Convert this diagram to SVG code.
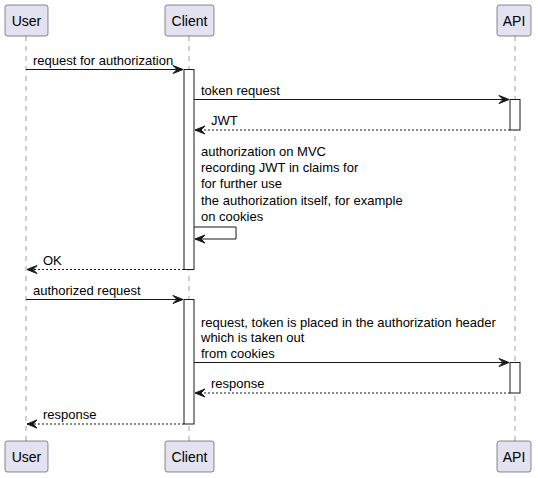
<svg xmlns="http://www.w3.org/2000/svg" width="538" height="478" viewBox="0 0 538 478">
<style>
.box{fill:#E2E2F0;stroke:#181818;stroke-width:0.5}
.life{stroke:#A0A0A0;stroke-width:1;stroke-dasharray:5,5}
.act{fill:#FFFFFF;stroke:#181818;stroke-width:1}
.msg{stroke:#181818;stroke-width:1;fill:none}
.ret{stroke:#181818;stroke-width:1;fill:none;stroke-dasharray:2,2}
.head{fill:#181818;stroke:#181818;stroke-width:1}
.pt{font-family:"Liberation Sans",Arial,sans-serif;font-size:14px;fill:#000000;text-anchor:middle}
.mt{font-family:"Liberation Sans",Arial,sans-serif;font-size:13px;fill:#000000}
</style>
<defs>
<polygon id="hr" points="-10,-4 0,0 -10,4 -6,0"/>
<polygon id="hl" points="10,-4 0,0 10,4 6,0"/>
</defs>
<rect width="538" height="478" fill="#FFFFFF"/>
<g id="lifelines">
<line class="life" x1="26" y1="36" x2="26" y2="441"/>
<line class="life" x1="189" y1="36" x2="189" y2="441"/>
<line class="life" x1="515" y1="36" x2="515" y2="441"/>
</g>
<g id="activations">
<rect class="act" x="184" y="69.5" width="10" height="200"/>
<rect class="act" x="184" y="299.5" width="10" height="124.5"/>
<rect class="act" x="510" y="99.5" width="10" height="30.5"/>
<rect class="act" x="510" y="362.5" width="10" height="30.5"/>
</g>
<g id="user-top"><rect class="box" x="5" y="5" width="43" height="31" rx="2.5"/><text class="pt" x="26.5" y="25.5">User</text></g>
<g id="client-top"><rect class="box" x="165" y="5" width="49" height="31" rx="2.5"/><text class="pt" x="189.5" y="25.5">Client</text></g>
<g id="api-top"><rect class="box" x="497" y="5" width="34" height="31" rx="2.5"/><text class="pt" x="514" y="25.5">API</text></g>
<g id="user-bottom"><rect class="box" x="5" y="441" width="43" height="31" rx="2.5"/><text class="pt" x="26.5" y="461.5">User</text></g>
<g id="client-bottom"><rect class="box" x="165" y="441" width="49" height="31" rx="2.5"/><text class="pt" x="189.5" y="461.5">Client</text></g>
<g id="api-bottom"><rect class="box" x="497" y="441" width="34" height="31" rx="2.5"/><text class="pt" x="514" y="461.5">API</text></g>
<g id="connectors">
<line class="msg" x1="26" y1="69.5" x2="183" y2="69.5"/>
<use href="#hr" class="head" x="183" y="69.5"/>
<text class="mt" x="33" y="65">request for authorization</text>

<line class="msg" x1="194" y1="99.5" x2="509" y2="99.5"/>
<use href="#hr" class="head" x="509" y="99.5"/>
<text class="mt" x="201" y="95">token request</text>

<line class="ret" x1="510" y1="130" x2="195" y2="130"/>
<use href="#hl" class="head" x="195" y="130"/>
<text class="mt" x="211" y="125">JWT</text>

<text class="mt" x="201" y="156">authorization on MVC</text>
<text class="mt" x="201" y="172.2">recording JWT in claims for</text>
<text class="mt" x="201" y="188.4">for further use</text>
<text class="mt" x="201" y="204.6">the authorization itself, for example</text>
<text class="mt" x="201" y="220.8">on cookies</text>
<polyline class="msg" points="194,227 236,227 236,239 195,239"/>
<use href="#hl" class="head" x="195" y="239"/>

<line class="ret" x1="184" y1="269.5" x2="27" y2="269.5"/>
<use href="#hl" class="head" x="27" y="269.5"/>
<text class="mt" x="43" y="265">OK</text>

<line class="msg" x1="26" y1="299.5" x2="183" y2="299.5"/>
<use href="#hr" class="head" x="183" y="299.5"/>
<text class="mt" x="33" y="295">authorized request</text>

<text class="mt" x="201" y="327">request, token is placed in the authorization header</text>
<text class="mt" x="201" y="342.3">which is taken out</text>
<text class="mt" x="201" y="357.6">from cookies</text>
<line class="msg" x1="194" y1="362.5" x2="509" y2="362.5"/>
<use href="#hr" class="head" x="509" y="362.5"/>

<line class="ret" x1="510" y1="393" x2="195" y2="393"/>
<use href="#hl" class="head" x="195" y="393"/>
<text class="mt" x="211" y="388">response</text>

<line class="ret" x1="184" y1="424" x2="27" y2="424"/>
<use href="#hl" class="head" x="27" y="424"/>
<text class="mt" x="43" y="419">response</text>
</g>
</svg>
